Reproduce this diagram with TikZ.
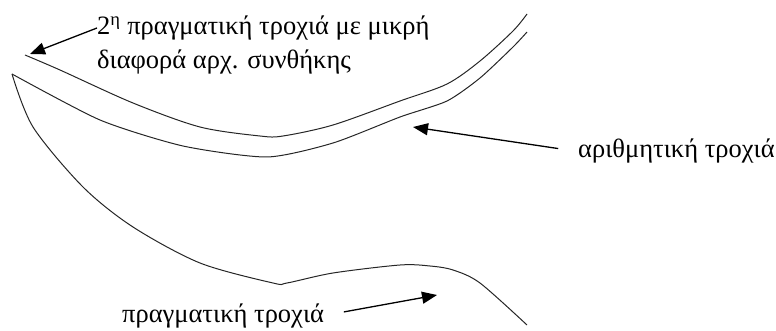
\documentclass[tikz,border=0pt]{standalone}
\usepackage{fontspec}
\setmainfont{Liberation Serif}
\usetikzlibrary{arrows.meta}

\begin{document}
\begin{tikzpicture}[x=1pt,y=-1pt,
  traj/.style={line width=1pt,black!85,line join=round},
  lbl/.style={font=\fontsize{26.5}{34}\selectfont,inner sep=0pt,align=left},
  arr/.style={-{Triangle[length=15pt,width=12pt]},line width=1.3pt}]
  \useasboundingbox (0,0) rectangle (776,331);
  % trajectories
  \draw[traj] plot[smooth,tension=0.5] coordinates {(25,55) (60,70) (133,103) (200,127) (260,136) (283,136) (333,125) (400,101) (447,84) (480,61) (513,31) (527,14)};
  \draw[traj] plot[smooth,tension=0.4] coordinates {(12,74) (100,120) (183,146) (267,157) (333,143) (400,117) (447,101) (480,78) (513,47) (527,32)};
  \draw[traj] plot[smooth,tension=0.5] coordinates {(12,74) (33,127) (83,187) (133,227) (200,263) (273,283) (287,283) (333,273) (400,265) (430,266) (453,270) (480,283) (527,325)};
  % arrow targets on the curves
  \coordinate (tipA) at (30,54);
  \coordinate (tipB) at (413,127);
  \coordinate (tipC) at (437,295);
  % labels
  \node[lbl,anchor=north west] (second) at (97,16) {2\textsuperscript{η} πραγματική τροχιά με μικρή\\διαφορά αρχ. συνθήκης};
  \node[lbl,anchor=base west] (numeric) at (578,158) {αριθμητική τροχιά};
  \node[lbl,anchor=base west] (real) at (122,322) {πραγματική τροχιά};
  % arrows
  \draw[arr] ([yshift=-12pt]second.north west) -- (tipA);
  \draw[arr,shorten <=20pt] (numeric.west) -- (tipB);
  \draw[arr,shorten <=20pt] (real.east) -- (tipC);
\end{tikzpicture}
\end{document}
